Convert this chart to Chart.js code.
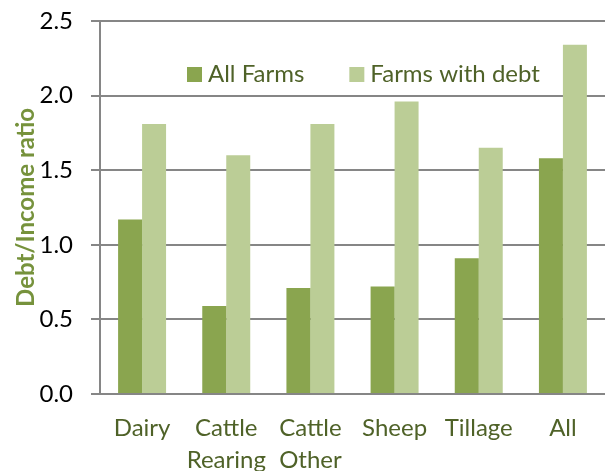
<!DOCTYPE html>
<html><head><meta charset="utf-8">
<script src="https://cdn.jsdelivr.net/npm/chart.js@4"></script>
<style>html,body{margin:0;padding:0;background:#fff}#wrap{width:605px;height:471px}</style>
</head><body><div id="wrap"><canvas id="c" width="605" height="471"></canvas></div>
<script>
const categories = [["Dairy"], ["Cattle", "Rearing"], ["Cattle", "Other"], ["Sheep"], ["Tillage"], ["All"]];
const allFarms = [1.17, 0.59, 0.71, 0.72, 0.91, 1.58];
const farmsWithDebt = [1.81, 1.60, 1.81, 1.96, 1.65, 2.34];
const seriesNames = ["All Farms", "Farms with debt"];
const yTitle = "Debt/Income ratio";

const FONT = "Lato";
const legendPlugin = {
  id: 'innerLegend',
  afterDraw(chart) {
    const ctx = chart.ctx, ca = chart.chartArea;
    ctx.save();
    ctx.font = `24px ${FONT}`;
    ctx.textBaseline = 'middle';
    let x = ca.left + 87;
    const y = ca.top + 53;
    chart.data.datasets.forEach((ds) => {
      ctx.fillStyle = ds.backgroundColor;
      ctx.fillRect(x, y - 7, 15, 15);
      x += 21;
      ctx.fillStyle = '#4F6228';
      ctx.fillText(ds.label, x, y);
      x += ctx.measureText(ds.label).width + 45;
    });
    ctx.restore();
  }
};

new Chart(document.getElementById('c'), {
  type: 'bar',
  data: {
    labels: categories,
    datasets: [
      { label: seriesNames[0], data: allFarms, backgroundColor: '#8AA54F', borderWidth: 0 },
      { label: seriesNames[1], data: farmsWithDebt, backgroundColor: '#BBCD96', borderWidth: 0 }
    ]
  },
  plugins: [legendPlugin],
  options: {
    responsive: false,
    animation: false,
    devicePixelRatio: 1,
    layout: { padding: { top: 0, right: 0, left: 0, bottom: 0 } },
    datasets: { bar: { categoryPercentage: 0.57, barPercentage: 1.0 } },
    plugins: {
      tooltip: { enabled: false },
      legend: { display: false }
    },
    scales: {
      x: {
        afterFit(scale) { scale.height = 77; },
        grid: { display: false, drawTicks: false },
        border: { color: '#868686', width: 2 },
        ticks: { font: { family: FONT, size: 24, lineHeight: 1.35 }, color: '#4F6228', padding: 18, maxRotation: 0, autoSkip: false }
      },
      y: {
        min: 0, max: 2.5,
        afterFit(scale) { scale.width = 100; scale.paddingTop = 21; scale.paddingBottom = 0; },
        grid: { color: '#868686', lineWidth: 2, tickLength: 9, drawTicks: true },
        border: { color: '#868686', width: 2 },
        ticks: { stepSize: 0.5, font: { family: FONT, size: 24 }, color: '#000', padding: 18,
          callback: v => Number(v).toFixed(1) },
        title: { display: true, text: yTitle, font: { family: FONT, size: 24, weight: 'bold' }, color: '#76923C', padding: { top: 12, bottom: 4 } }
      }
    }
  }
});
</script></body></html>
